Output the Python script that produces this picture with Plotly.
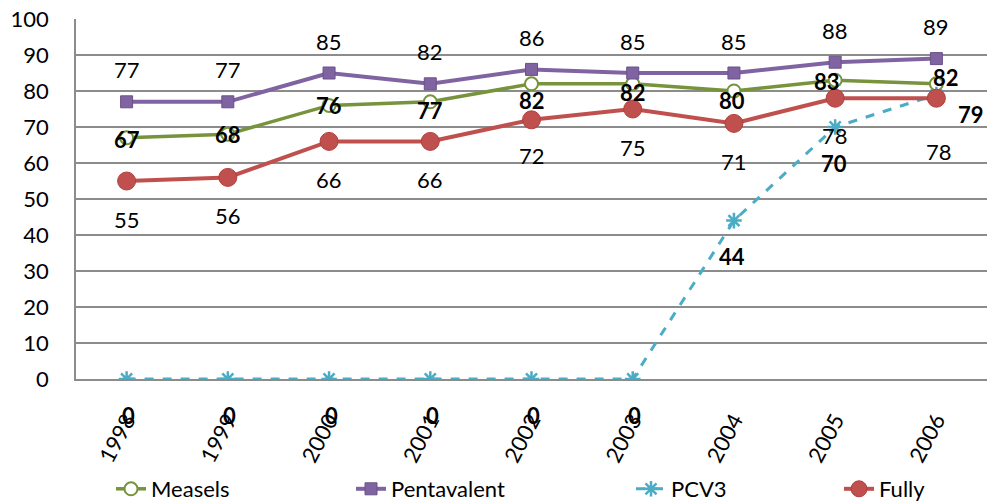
import plotly.graph_objects as go

# Immunisation coverage (%) by year
years = ["1998", "1999", "2000", "2001", "2002", "2003", "2004", "2005", "2006"]
measles = [67, 68, 76, 77, 82, 82, 80, 83, 82]
pentavalent = [77, 77, 85, 82, 86, 85, 85, 88, 89]
pcv3 = [0, 0, 0, 0, 0, 0, 44, 70, 79]
fully = [55, 56, 66, 66, 72, 75, 71, 78, 78]

FONT = "Lato, Arial, sans-serif"
GRID = "#8c8c8c"
C_MEAS = "#77933C"
C_PENTA = "#8064A2"
C_PCV = "#4BACC6"
C_FULLY = "#C0504D"
FS = 22

fig = go.Figure()

fig.add_trace(go.Scatter(
    x=years, y=measles, name="Measels", mode="lines+markers",
    line=dict(color=C_MEAS, width=3.5),
    marker=dict(symbol="circle", size=13, color="white", line=dict(width=2, color=C_MEAS)),
    legend="legend", showlegend=True,
))
fig.add_trace(go.Scatter(
    x=years, y=pentavalent, name="Pentavalent", mode="lines+markers",
    line=dict(color=C_PENTA, width=4),
    marker=dict(symbol="square", size=12, color=C_PENTA, line=dict(width=1, color="#6a5088")),
    legend="legend2", showlegend=True,
))
fig.add_trace(go.Scatter(
    x=years, y=pcv3, name="PCV3", mode="lines+markers",
    line=dict(color=C_PCV, width=3, dash="dash"),
    marker=dict(symbol="asterisk-open", size=13, color=C_PCV, line=dict(width=2.5, color=C_PCV)),
    legend="legend3", showlegend=True,
))
fig.add_trace(go.Scatter(
    x=years, y=fully, name="Fully", mode="lines+markers",
    line=dict(color=C_FULLY, width=4),
    marker=dict(symbol="circle", size=18, color=C_FULLY, line=dict(width=1, color="#b0403d")),
    legend="legend4", showlegend=True,
))

# Data label placement (pixel offsets from each point)
penta_dy = [32] * 9
meas_dy = [-2, 0, 0, -9, -17, -9, -9, -1, 6]
meas_dx = [0, 0, 0, 0, 0, 0, -2, -8, 10]
fully_dy = [-38, -38, -38, -38, -36, -38, -38, -37, -53]
fully_dx = [0, 0, 0, 0, 0, 0, 0, 0, 3]
pcv_dy = [-36, -36, -36, -36, -36, -36, -36, -36, -20]
pcv_dx = [2, 2, 2, 2, 2, 2, -2, -1, 35]

annotations = []


def add_labels(values, dx, dy, bold):
    for i in range(len(years)):
        v = values[i]
        txt = "<b>%d</b>" % v if bold else "%d" % v
        annotations.append(dict(
            x=i, y=v, xref="x", yref="y", text=txt, showarrow=False,
            xshift=dx[i], yshift=dy[i],
            font=dict(family=FONT, size=FS, color="#000000"),
        ))


add_labels(pentavalent, [0] * 9, penta_dy, False)
add_labels(fully, fully_dx, fully_dy, False)
add_labels(measles, meas_dx, meas_dy, True)
add_labels(pcv3, pcv_dx, pcv_dy, True)

W, H = 989, 501
ML, MR, MT, MB = 76, 2, 19, 122
pw = W - ML - MR
ph = H - MT - MB


def lx(px):
    return (px - ML) / pw


leg_common = dict(
    visible=True,
    orientation="h", yanchor="middle", y=(H - MB - 489) / ph,
    xanchor="left",
    font=dict(family=FONT, size=FS, color="#000000"),
    bgcolor="rgba(0,0,0,0)", borderwidth=0, itemwidth=30,
)

fig.update_layout(
    width=W, height=H,
    margin=dict(l=ML, r=MR, t=MT, b=MB, autoexpand=False),
    paper_bgcolor="white", plot_bgcolor="white",
    font=dict(family=FONT, size=FS, color="#000000"),
    annotations=annotations,
    showlegend=True,
    legend=dict(x=lx(111), **leg_common),
    legend2=dict(x=lx(351), **leg_common),
    legend3=dict(x=lx(631), **leg_common),
    legend4=dict(x=lx(839), **leg_common),
    xaxis=dict(
        type="category", range=[-0.5, 8.5],
        showgrid=False, showline=True, linecolor=GRID, linewidth=1.5,
        tickangle=-62, ticks="", ticklabelstandoff=18,
        tickfont=dict(family=FONT, size=FS, color="#000000"),
        zeroline=False, automargin=False,
    ),
    yaxis=dict(
        range=[0, 100], dtick=10, tick0=0,
        showgrid=True, gridcolor=GRID, gridwidth=1.5,
        showline=True, linecolor=GRID, linewidth=1.5,
        ticks="", ticklabelstandoff=21,
        tickfont=dict(family=FONT, size=FS, color="#000000"),
        zeroline=False, automargin=False,
    ),
)

fig.write_html("out.html")
